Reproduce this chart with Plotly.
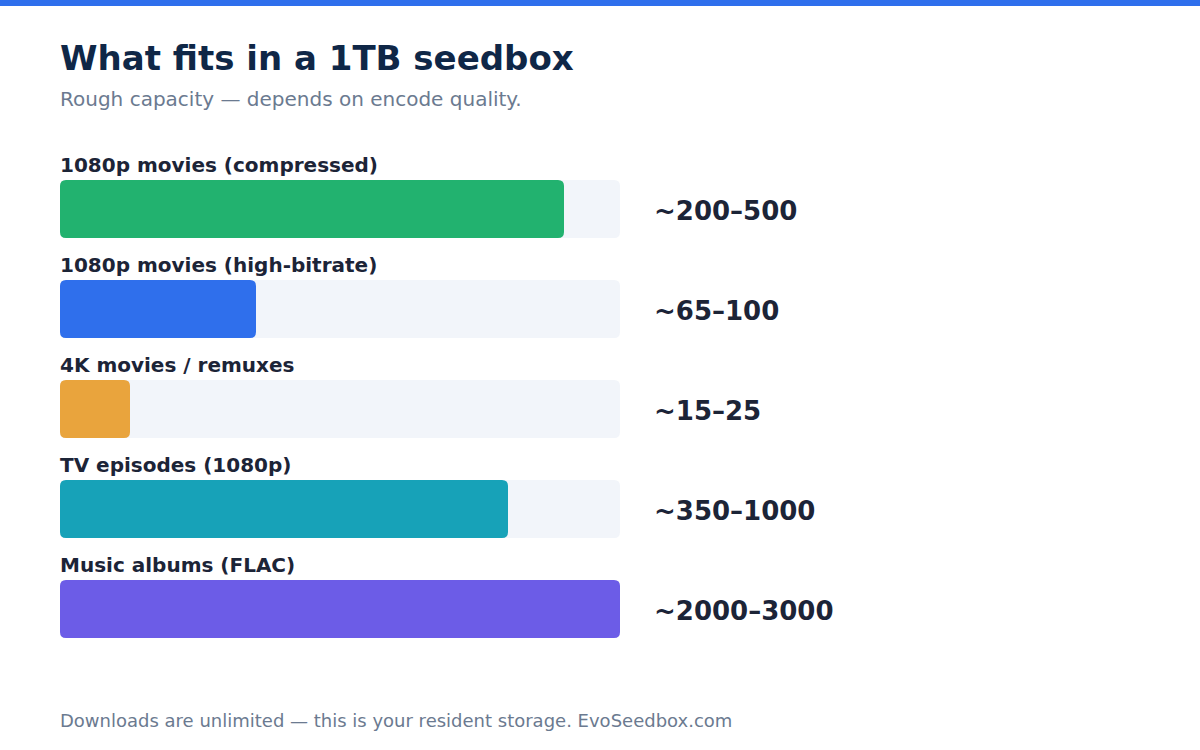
import plotly.graph_objects as go

# data
categories = ["1080p movies (compressed)", "1080p movies (high-bitrate)", "4K movies / remuxes",
              "TV episodes (1080p)", "Music albums (FLAC)"]
value_labels = ["~200–500", "~65–100", "~15–25", "~350–1000", "~2000–3000"]
fill_share = [0.90, 0.35, 0.125, 0.80, 1.0]
bar_colors = ["#22b26f", "#2f6fec", "#e9a43d", "#17a2b8", "#6c5ce7"]

# layout in pixels
W, H = 1200, 750
ML, MR, MT, MB = 60, 580, 159, 91
plot_w = W - ML - MR
plot_h = H - MT - MB
n = len(categories)
px_x = 1.0 / plot_w          # data units per px along x (range 0..1)
px_y = n / plot_h            # data units per px along y (range n)
radius = 6
bar_h = 0.58


def rounded_rect(x0, x1, yc, h, r):
    rx, ry = r * px_x, r * px_y
    rx = min(rx, (x1 - x0) / 2)
    y0, y1 = yc - h / 2, yc + h / 2
    return (f"M {x0+rx},{y0} L {x1-rx},{y0} Q {x1},{y0} {x1},{y0+ry} "
            f"L {x1},{y1-ry} Q {x1},{y1} {x1-rx},{y1} L {x0+rx},{y1} "
            f"Q {x0},{y1} {x0},{y1-ry} L {x0},{y0+ry} Q {x0},{y0} {x0+rx},{y0} Z")


shapes = []
annotations = []
for i, (cat, val, share, col) in enumerate(zip(categories, value_labels, fill_share, bar_colors)):
    # track
    shapes.append(dict(type="path", xref="x", yref="y", path=rounded_rect(0, 1, i, bar_h, radius),
                       fillcolor="#f2f5fa", line=dict(width=0), layer="below"))
    # fill
    shapes.append(dict(type="path", xref="x", yref="y", path=rounded_rect(0, share, i, bar_h, radius),
                       fillcolor=col, line=dict(width=0), layer="above"))
    annotations.append(dict(xref="paper", yref="y", x=0, y=i, xshift=-2, yshift=44, xanchor="left",
                            yanchor="middle", text=f"<b>{cat}</b>", showarrow=False,
                            font=dict(size=20, color="#1c2437", family="DejaVu Sans")))
    annotations.append(dict(xref="paper", yref="y", x=1, y=i, xshift=32, yshift=-2, xanchor="left",
                            yanchor="middle", text=f"<b>{val}</b>", showarrow=False,
                            font=dict(size=26, color="#1c2437", family="DejaVu Sans")))

# top accent strip
shapes.append(dict(type="rect", xref="paper", yref="paper",
                   x0=-ML / plot_w, x1=(W - ML) / plot_w,
                   y0=1 + (MT - 6) / plot_h, y1=1 + MT / plot_h,
                   fillcolor="#2f6fec", line=dict(width=0)))

annotations.append(dict(xref="paper", yref="paper", x=0, y=1, xshift=-2, yshift=MT - 58, xanchor="left",
                        yanchor="middle", text="<b>What fits in a 1TB seedbox</b>", showarrow=False,
                        font=dict(size=34, color="#0f2747", family="DejaVu Sans")))
annotations.append(dict(xref="paper", yref="paper", x=0, y=1, xshift=-2, yshift=MT - 99, xanchor="left",
                        yanchor="middle", text="Rough capacity — depends on encode quality.", showarrow=False,
                        font=dict(size=20, color="#6b7a90", family="DejaVu Sans")))
annotations.append(dict(xref="paper", yref="paper", x=0, y=0, xshift=-2, yshift=-(720 - (H - MB)),
                        xanchor="left", yanchor="middle",
                        text="Downloads are unlimited — this is your resident storage. EvoSeedbox.com",
                        showarrow=False, font=dict(size=18, color="#6b7a90", family="DejaVu Sans")))

fig = go.Figure()
fig.add_trace(go.Scatter(x=[0, 1], y=[0, n - 1], mode="markers", marker=dict(opacity=0),
                         hoverinfo="skip", showlegend=False))
fig.update_layout(
    width=W, height=H,
    margin=dict(l=ML, r=MR, t=MT, b=MB),
    paper_bgcolor="white", plot_bgcolor="white",
    xaxis=dict(range=[0, 1], visible=False, fixedrange=True),
    yaxis=dict(range=[n - 0.5, -0.5], visible=False, fixedrange=True),
    shapes=shapes,
    annotations=annotations,
    showlegend=False,
)

fig.write_html("out.html", config={"displayModeBar": False},
               post_script="document.body.style.margin='0';")
